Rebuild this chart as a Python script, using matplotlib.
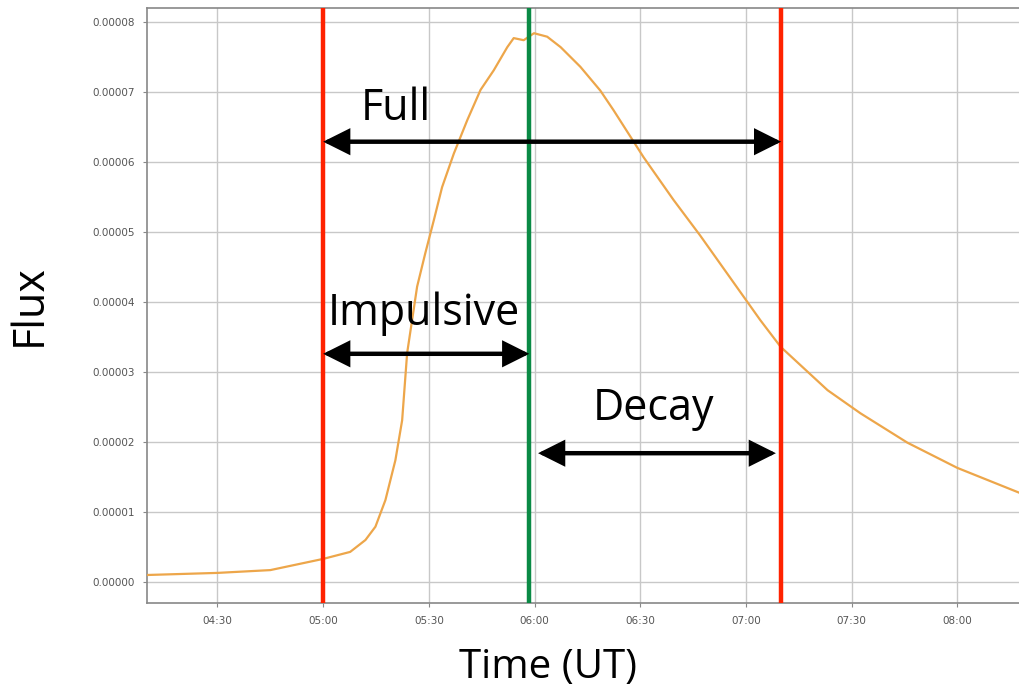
import matplotlib
matplotlib.use("Agg")
import matplotlib.pyplot as plt
import matplotlib.dates as mdates
from matplotlib.ticker import FuncFormatter
import datetime as dt

# ---- data ----
times = ["04:10", "04:30", "04:45", "05:00", "05:07:40", "05:12", "05:14:50", "05:17:40",
         "05:20:30", "05:22:25", "05:23:50", "05:26:40", "05:29:00", "05:31:25",
         "05:33:45", "05:37:05", "05:40:55", "05:44:40", "05:48:25", "05:52:15",
         "05:54:05", "05:56:55", "05:59:50", "06:03:35", "06:07:25", "06:13:00",
         "06:18:40", "06:22:25", "06:30:55", "06:39:25", "06:47:00", "07:04:05",
         "07:09:50", "07:23:10", "07:32:30", "07:45:50", "08:00", "08:17:50"]
flux = [0.10e-5, 0.13e-5, 0.17e-5, 0.33e-5, 0.43e-5, 0.60e-5, 0.79e-5, 1.17e-5,
        1.74e-5, 2.31e-5, 3.27e-5, 4.22e-5, 4.70e-5, 5.17e-5,
        5.64e-5, 6.12e-5, 6.60e-5, 7.03e-5, 7.31e-5, 7.64e-5,
        7.77e-5, 7.74e-5, 7.84e-5, 7.79e-5, 7.64e-5, 7.36e-5,
        7.02e-5, 6.74e-5, 6.07e-5, 5.46e-5, 4.95e-5, 3.74e-5,
        3.36e-5, 2.74e-5, 2.41e-5, 1.99e-5, 1.63e-5, 1.27e-5]
xtick_labels = ["04:30", "05:00", "05:30", "06:00", "06:30", "07:00", "07:30", "08:00"]
ytick_values = [0.0, 1e-5, 2e-5, 3e-5, 4e-5, 5e-5, 6e-5, 7e-5, 8e-5]
flare_start = "05:00"
flare_peak = "05:58:30"
flare_end = "07:10"
decay_arrow = ["06:01", "07:08:30"]


def T(s):
    parts = [int(p) for p in s.split(":")]
    while len(parts) < 3:
        parts.append(0)
    return dt.datetime(2017, 9, 6, parts[0], parts[1], parts[2])


tx = [T(s) for s in times]

fig = plt.figure(figsize=(10.2, 6.96), dpi=100)
ax = fig.add_axes([147 / 1020, 1 - 603 / 696, 878 / 1020, 595 / 696])

ax.plot(tx, flux, color="#eda64a", lw=1.6, zorder=3)

x0 = T("04:10")
ax.set_xlim(x0, x0 + dt.timedelta(minutes=249.2))
ax.set_ylim(-0.3e-5, 8.2e-5)

ax.set_xticks([T(s) for s in xtick_labels])
ax.xaxis.set_major_formatter(mdates.DateFormatter("%H:%M"))
ax.set_yticks(ytick_values)
ax.yaxis.set_major_formatter(FuncFormatter(lambda v, p: f"{v:.5f}"))
ax.tick_params(labelsize=7.5, labelcolor="#555555", color="#888888", length=3, pad=6)
ax.grid(True, color="#c8c8c8", lw=1.0)
for s in ax.spines.values():
    s.set_color("#888888")
    s.set_linewidth(1.2)

# phase boundaries
ax.axvline(T(flare_start), color="#ff2200", lw=3.2, zorder=4)
ax.axvline(T(flare_end), color="#ff2200", lw=3.2, zorder=4)
ax.axvline(T(flare_peak), color="#0a8a45", lw=3.2, zorder=4)

arrow_kw = dict(arrowstyle="<|-|>,head_length=0.72,head_width=0.36", color="black", lw=3.2,
                shrinkA=0, shrinkB=0, mutation_scale=20, joinstyle="miter")
ax.annotate("", xy=(T(flare_end), 6.29e-5), xytext=(T(flare_start), 6.29e-5),
            arrowprops=arrow_kw, zorder=5)
ax.annotate("", xy=(T(flare_peak), 3.26e-5), xytext=(T(flare_start), 3.26e-5),
            arrowprops=arrow_kw, zorder=5)
ax.annotate("", xy=(T(decay_arrow[1]), 1.84e-5), xytext=(T(decay_arrow[0]), 1.84e-5),
            arrowprops=arrow_kw, zorder=5)

fam = ["Open Sans", "DejaVu Sans"]
fs = 31
ax.text(T("05:10:40"), 6.6e-5, "Full", fontsize=fs, family=fam, ha="left", va="baseline")
ax.text(T("05:28:30"), 3.67e-5, "Impulsive", fontsize=fs, family=fam, ha="center", va="baseline")
ax.text(T("06:33:45"), 2.31e-5, "Decay", fontsize=fs, family=fam, ha="center", va="baseline")

fig.text(30 / 1020, 1 - 305 / 696, "Flux", rotation=90, fontsize=fs, family=fam,
         ha="center", va="center")
fig.text(548 / 1020, 1 - 668 / 696, "Time (UT)", fontsize=29, family=fam,
         ha="center", va="center")

fig.savefig("out.png", dpi=100)
